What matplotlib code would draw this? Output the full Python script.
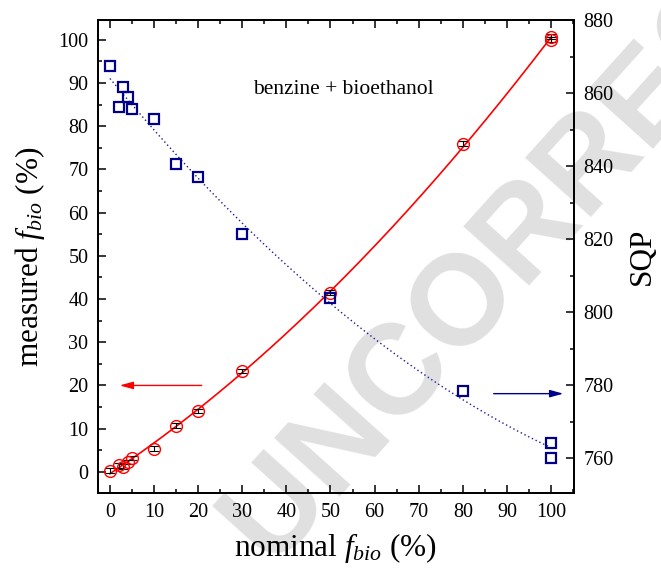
import numpy as np
import matplotlib
matplotlib.use("Agg")
import matplotlib.pyplot as plt
from matplotlib.ticker import MultipleLocator

plt.rcParams['font.family'] = ['Liberation Serif', 'DejaVu Serif']
plt.rcParams['mathtext.fontset'] = 'custom'
plt.rcParams['mathtext.rm'] = 'Liberation Serif'
plt.rcParams['mathtext.it'] = 'Liberation Serif:italic'

# measured fraction vs nominal fraction (left axis)
nominal = [0, 2, 3, 4, 5, 10, 15, 20, 30, 50, 80, 100, 100]
measured = [0.3, 1.5, 1.2, 2.3, 3.2, 5.4, 10.7, 14.1, 23.4, 41.5, 76.0, 100.7, 100.0]
measured_err = [0.5, 0.5, 0.5, 0.5, 0.5, 0.5, 0.5, 0.5, 0.5, 0.6, 0.6, 0.6, 0.6]

# SQP vs nominal fraction (right axis)
sqp_nominal = [0, 2, 3, 4, 5, 10, 15, 20, 30, 50, 80, 100, 100]
sqp = [867.5, 856.3, 861.6, 859.0, 855.7, 852.8, 840.6, 836.9, 821.3, 803.9, 778.3, 764.2, 760.1]

fig = plt.figure(figsize=(6.61, 5.70), dpi=100)
ax = fig.add_axes([0.1483, 0.1351, 0.720, 0.8298])
ax.set_facecolor('none')
ax2 = ax.twinx()

# watermark behind everything
fig.text(0.875, 0.695, 'UNCORRECTED', fontsize=92, fontweight='bold',
         family='Liberation Sans', color='#e0e0e0', rotation=48,
         ha='center', va='center', zorder=-1)

# fit curves
xf = np.linspace(0, 100, 200)
p_red = np.polyfit(nominal, measured, 2)
ax.plot(xf, np.polyval(p_red, xf), color='red', lw=1.2, zorder=2)
p_blue = np.polyfit(sqp_nominal, sqp, 2)
ax2.plot(xf, np.polyval(p_blue, xf), color='#1a1a9a', lw=1.0, ls=(0, (1, 2)), zorder=2)

ax.errorbar(nominal, measured, yerr=measured_err, fmt='none', ecolor='black',
            elinewidth=0.8, capsize=3.5, capthick=0.8, zorder=3)
ax.plot(nominal, measured, 'o', ms=8.5, mfc='none', mec='red', mew=1.0, zorder=4)
ax2.plot(sqp_nominal, sqp, 's', ms=6.5, mfc='none', mec='#00008b', mew=1.6, zorder=4)

ax.text(53, 88.5, 'benzine + bioethanol', fontsize=15.5, ha='center', va='center')

# arrows pointing to the relevant axis
ax.annotate('', xy=(2.2, 20), xytext=(20.8, 20),
            arrowprops=dict(arrowstyle='-|>,head_length=0.8,head_width=0.22',
                            color='red', lw=1.0, shrinkA=0, shrinkB=0))
ax2.annotate('', xy=(102.8, 777.7), xytext=(87.0, 777.7),
             arrowprops=dict(arrowstyle='-|>,head_length=0.8,head_width=0.22',
                             color='#00008b', lw=1.0, shrinkA=0, shrinkB=0))

ax.set_xlim(-2.7, 105.2)
ax.set_ylim(-4.9, 104.6)
ax2.set_ylim(750.5, 880)

ax.xaxis.set_major_locator(MultipleLocator(10))
ax.xaxis.set_minor_locator(MultipleLocator(5))
ax.yaxis.set_major_locator(MultipleLocator(10))
ax.yaxis.set_minor_locator(MultipleLocator(5))
ax2.yaxis.set_major_locator(MultipleLocator(20))
ax2.yaxis.set_minor_locator(MultipleLocator(10))

ax.tick_params(which='both', direction='in', top=True, right=False, labelsize=14.5, width=1.1)
ax.tick_params(which='major', length=6, pad=7)
ax.tick_params(which='minor', length=3)
ax2.tick_params(which='both', direction='in', labelsize=14.5, width=1.1)
ax2.tick_params(which='major', length=6, pad=7)
ax2.tick_params(which='minor', length=3)

for a in (ax, ax2):
    for s in a.spines.values():
        s.set_linewidth(1.3)

ax.set_xlabel(r'nominal $f_{bio}$ (%)', fontsize=22.5, labelpad=7)
ax.set_ylabel(r'measured $f_{bio}$ (%)', fontsize=22.5, labelpad=8)
ax2.set_ylabel('SQP', fontsize=22.5, labelpad=10)

fig.savefig('out.png', dpi=100)
